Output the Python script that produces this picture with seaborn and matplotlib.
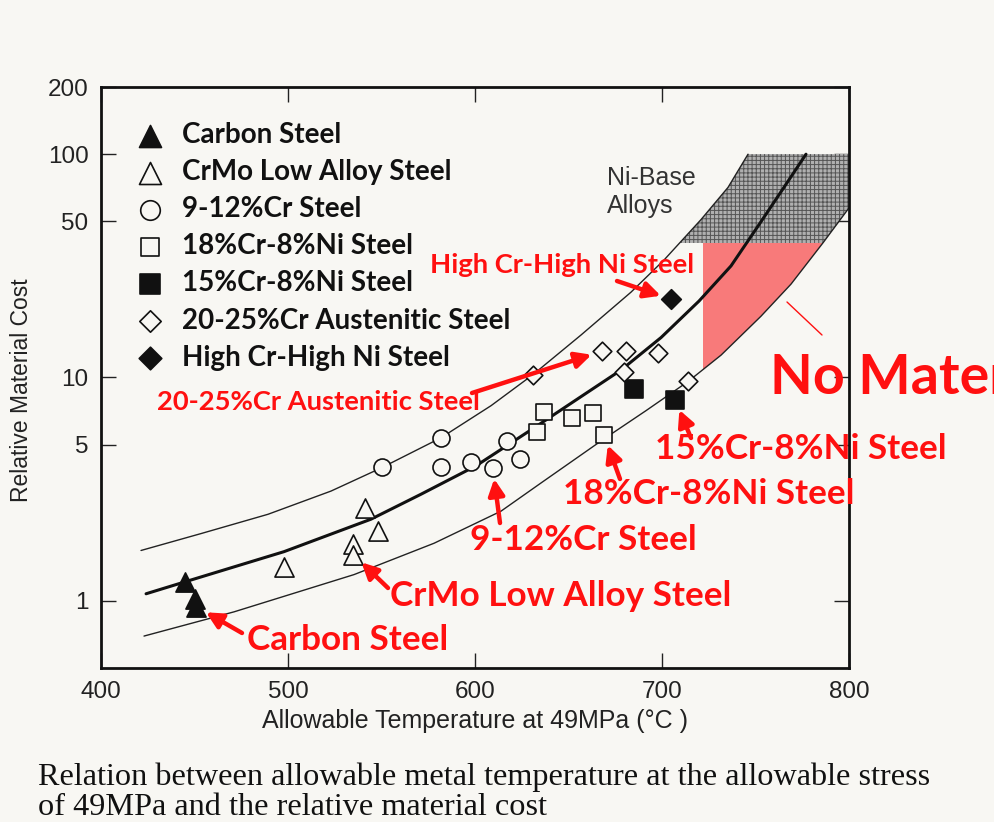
import numpy as np
import pandas as pd
import matplotlib
matplotlib.use("Agg")
import matplotlib.pyplot as plt
from matplotlib.patches import Polygon, Rectangle
import seaborn as sns

# ---------------- data: allowable temperature at 49 MPa (°C) vs relative cost ----------------
carbon_T = [445, 450, 451]
carbon_C = [1.22, 1.02, 0.94]

crmo_T = [498, 535, 535, 541, 548]
crmo_C = [1.42, 1.79, 1.61, 2.60, 2.05]

cr912_T = [550, 582, 582, 598, 609.5, 617, 624]
cr912_C = [3.97, 5.37, 3.97, 4.20, 3.94, 5.20, 4.30]

ss188_T = [633, 637, 652, 663, 669]
ss188_C = [5.73, 6.98, 6.58, 6.93, 5.54]

ss158_T = [685, 707]
ss158_C = [8.90, 7.96]

aus_T = [631, 668, 681, 698, 679.5, 714]
aus_C = [10.3, 13.1, 13.1, 12.9, 10.6, 9.6]

hicrni_T = [705]
hicrni_C = [22.4]

# trend band: upper / central / lower cost curves
upper_T = [421.4, 453.5, 489.3, 523.0, 549.7, 581.8, 608.6, 631.0, 656.7, 683.4, 701.1, 720.9, 735.3, 746.0]
upper_C = [1.68, 2.00, 2.44, 3.10, 3.93, 5.37, 7.48, 10.3, 15.5, 24.1, 33.6, 51.0, 71.0, 100.0]

mid_T = [424.1, 445.5, 497.9, 544.4, 571.1, 600.5, 631.6, 656.7, 678.1, 699.5, 719.8, 736.9, 751.9, 765.2, 777.0]
mid_C = [1.075, 1.22, 1.66, 2.32, 3.00, 4.02, 5.95, 8.21, 10.8, 15.1, 22.0, 31.6, 48.4, 71.0, 100.0]

lower_T = [423.0, 471.1, 535.3, 578.1, 613.9, 635.3, 669.0, 691.4, 713.9, 731.6, 752.9, 769.0, 786.1, 800.0]
lower_C = [0.695, 0.892, 1.31, 1.81, 2.52, 3.37, 5.31, 7.10, 9.59, 12.6, 18.8, 26.2, 40.1, 57.5]

# Ni-base alloy cost band and the "no material" window
nibase_C = (40, 100)
nomat_T = 722

x_ticks = [400, 500, 600, 700, 800]
y_ticks = [1, 5, 10, 50, 100, 200]
y_ticklabels = ["1", "5", "10", "50", "100", "200"]

series = [
    ("Carbon Steel", carbon_T, carbon_C, "^", True, 190),
    ("CrMo Low Alloy Steel", crmo_T, crmo_C, "^", False, 190),
    ("9-12%Cr Steel", cr912_T, cr912_C, "o", False, 150),
    ("18%Cr-8%Ni Steel", ss188_T, ss188_C, "s", False, 130),
    ("15%Cr-8%Ni Steel", ss158_T, ss158_C, "s", True, 150),
    ("20-25%Cr Austenitic Steel", aus_T, aus_C, "D", False, 90),
    ("High Cr-High Ni Steel", hicrni_T, hicrni_C, "D", True, 100),
]

# ---------------- styling ----------------
sns.set_style("ticks")
plt.rcParams["font.family"] = ["Liberation Sans", "DejaVu Sans"]
plt.rcParams["hatch.linewidth"] = 0.7

BG = "#f8f7f3"
RED = "#ff1010"
W, H = 994, 822


def fpos(x, y):
    """pixel position on the page -> figure fraction"""
    return x / W, 1 - y / H


fig = plt.figure(figsize=(W / 100, H / 100), dpi=100, facecolor=BG)
ax = fig.add_axes([101 / W, 1 - 668 / H, 748 / W, 581 / H], facecolor=BG)
ax.set_yscale("log")
ax.set_xlim(400, 800)
ax.set_ylim(0.5, 200)

# Ni-base alloy region: between the outer curves, clipped to its cost band
band = Polygon(list(zip(lower_T, lower_C)) + [(800, 300)] + list(zip(upper_T, upper_C))[::-1],
               closed=True, facecolor="#b0b0b0", edgecolor="#555555", hatch="++++",
               linewidth=0, zorder=1)
ax.add_patch(band)
band.set_clip_path(Rectangle((400, nibase_C[0]), 400, nibase_C[1] - nibase_C[0],
                             transform=ax.transData))

# "no material" window: above the lower curve, right of nomat_T, below the Ni-base band
nomat = Polygon(list(zip(lower_T, lower_C)) + [(800, 300), (400, 300)], closed=True,
                facecolor="#f87a7a", edgecolor="none", zorder=1.5)
ax.add_patch(nomat)
nomat.set_clip_path(Rectangle((nomat_T, 0.5), 800 - nomat_T, nibase_C[0] - 0.5,
                              transform=ax.transData))

# trend curves
sns.lineplot(x=upper_T, y=upper_C, sort=False, estimator=None, color="#222222", lw=1.0, ax=ax, zorder=2)
sns.lineplot(x=mid_T, y=mid_C, sort=False, estimator=None, color="#111111", lw=2.2, ax=ax, zorder=2)
sns.lineplot(x=lower_T, y=lower_C, sort=False, estimator=None, color="#222222", lw=1.0, ax=ax, zorder=2)

# material data points
for name, T, C, mk, filled, s in series:
    sns.scatterplot(x=T, y=C, marker=mk, s=s, color="#111111" if filled else BG,
                    edgecolor="#111111", linewidth=1.2, label=name, ax=ax, zorder=4)

# axes frame and ticks
for sp in ax.spines.values():
    sp.set_linewidth(2.0)
    sp.set_color("#111111")
    sp.set_visible(True)
ax.set_xticks(x_ticks)
ax.set_xticklabels([str(v) for v in x_ticks])
ax.set_yticks(y_ticks)
ax.set_yticklabels(y_ticklabels)
ax.yaxis.set_minor_locator(matplotlib.ticker.NullLocator())
ax.tick_params(axis="both", direction="in", length=11, width=1.0, top=True, right=True,
               labelsize=17.5, colors="#222222")
ax.tick_params(axis="y", pad=9)
ax.tick_params(axis="x", pad=9)
ax.set_xlabel("")
ax.set_ylabel("")

fig.text(*fpos(22, 390), "Relative Material Cost", rotation=90, ha="center", va="center",
         fontsize=16.5, color="#222222")
fig.text(*fpos(475, 721), "Allowable Temperature at 49MPa (°C )", ha="center", va="center",
         fontsize=18, color="#222222")

fig.text(*fpos(607, 178), "Ni-Base", ha="left", va="center", fontsize=18, color="#333333")
fig.text(*fpos(607, 206), "Alloys", ha="left", va="center", fontsize=18, color="#333333")

# legend
leg = ax.legend(loc="upper left", bbox_to_anchor=fpos(136, 122), bbox_transform=fig.transFigure,
                frameon=False, prop=dict(family=["Lato", "DejaVu Sans"], weight="bold", size=20),
                handlelength=1.0, handletextpad=0.65, labelspacing=0.40, borderpad=0,
                borderaxespad=0, markerscale=1.15)
for t in leg.get_texts():
    t.set_color("#111111")

# red call-outs
bold = ["Lato", "DejaVu Sans"]
callouts = [
    ("High Cr-High Ni Steel", (430, 265), 19.7, (617, 281), (hicrni_T[0], hicrni_C[0])),
    ("20-25%Cr Austenitic Steel", (157, 402), 19.7, (472, 393), (aus_T[1], aus_C[1])),
    ("9-12%Cr Steel", (470, 540), 25.3, (500, 523), (cr912_T[4], cr912_C[4])),
    ("CrMo Low Alloy Steel", (390, 596), 25.3, (388, 588), (crmo_T[2], crmo_C[2])),
    ("Carbon Steel", (247, 640), 25.3, (242, 633), (carbon_T[2], carbon_C[2])),
    ("18%Cr-8%Ni Steel", (563, 494), 25.3, (620, 479), (ss188_T[4], ss188_C[4])),
    ("15%Cr-8%Ni Steel", (655, 449), 25.3, (691, 438), (ss158_T[1], ss158_C[1])),
]
for label, tpos, size, tail, target in callouts:
    fig.text(*fpos(*tpos), label, ha="left", va="center", fontsize=size, family=bold,
             weight="bold", color=RED)
    ax.annotate("", xy=target, xycoords="data", xytext=fpos(*tail), textcoords="figure fraction",
                arrowprops=dict(arrowstyle="-|>", color=RED, lw=3.2, mutation_scale=24,
                                shrinkA=0, shrinkB=8), zorder=5)

fig.text(*fpos(770, 378), "No Material", ha="left", va="center", fontsize=40, family=bold,
         weight="bold", color=RED)
fig.add_artist(plt.Line2D([787 / W, 822 / W], [1 - 302 / H, 1 - 335 / H], color=RED, lw=1.0))

# caption
fig.text(*fpos(38, 762), "Relation between allowable metal temperature at the allowable stress\n"
         "of 49MPa and the relative material cost", ha="left", va="top",
         fontsize=23.2, family=["Liberation Serif", "DejaVu Serif"], linespacing=1.08,
         color="#111111")

fig.savefig("out.png", dpi=100, facecolor=BG)
